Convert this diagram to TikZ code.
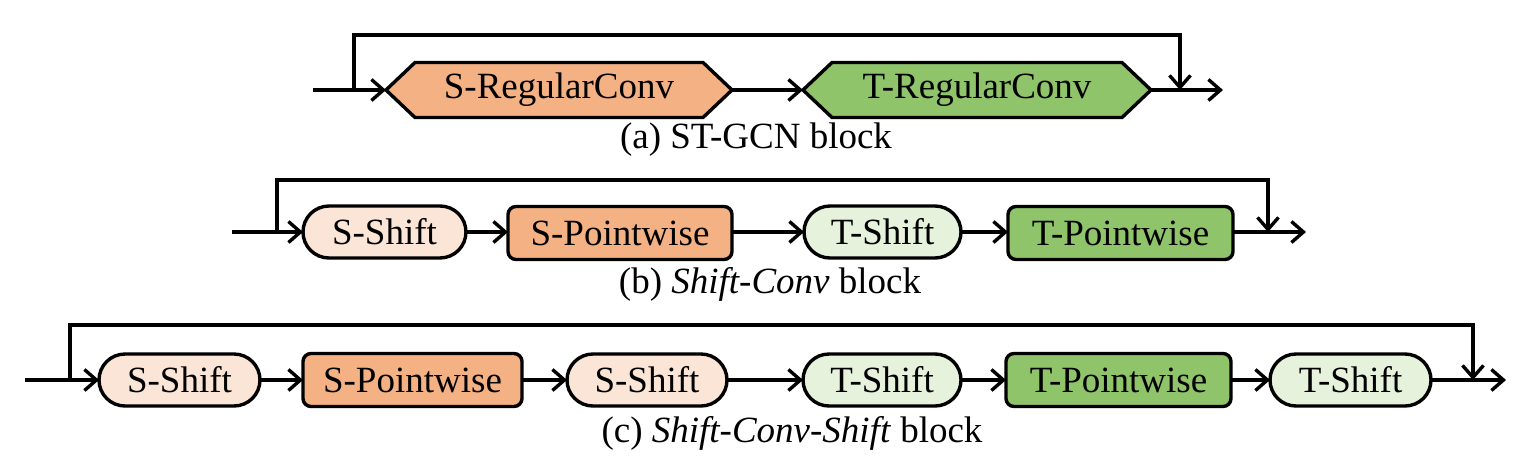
\documentclass[tikz,border=0pt]{standalone}
\usepackage{fontspec}
\setmainfont{Liberation Serif}
\usetikzlibrary{arrows.meta,backgrounds}
\definecolor{sdark}{HTML}{F4B183}
\definecolor{slight}{HTML}{FBE5D6}
\definecolor{tdark}{HTML}{8FC46B}
\definecolor{tlight}{HTML}{E6F2DC}
\begin{document}
\begin{tikzpicture}[x=1pt,y=-1pt,line width=3.4pt,
  every node/.style={font=\fontsize{37}{40}\selectfont,inner sep=0pt,outer sep=0pt},
  arr/.style={-{Straight Barb[length=12pt,width=21pt,line width=3.4pt]}},
  hexbox/.style={minimum width=#1,minimum height=55pt},
  hexline/.style={line width=3.4pt,line join=miter},
  stad/.style={draw,rounded corners=26pt,minimum height=52pt,minimum width=#1},
  pwbox/.style={draw,rounded corners=8pt,minimum height=53pt,minimum width=#1},
  captext/.style={anchor=center}]
\useasboundingbox (0,0) rectangle (1529,456);

% ---------- (a) ----------
\node[hexbox=346pt] (sr) at (559,90) {S-RegularConv};
\node[hexbox=348pt] (tr) at (977,90) {T-RegularConv};
\begin{scope}[on background layer]
\draw[hexline,fill=sdark] (sr.west) -- ([xshift=29pt]sr.north west) -- ([xshift=-29pt]sr.north east) -- (sr.east) -- ([xshift=-29pt]sr.south east) -- ([xshift=29pt]sr.south west) -- cycle;
\draw[hexline,fill=tdark] (tr.west) -- ([xshift=29pt]tr.north west) -- ([xshift=-29pt]tr.north east) -- (tr.east) -- ([xshift=-29pt]tr.south east) -- ([xshift=29pt]tr.south west) -- cycle;
\end{scope}
\coordinate (ain) at (313,90);
\coordinate (abr) at (354,90);
\coordinate (ajn) at (1180,90);
\coordinate (aout) at (1223,90);
\draw[arr] (ain) -- (sr.west);
\draw[arr] (sr.east) -- (tr.west);
\draw[arr] (tr.east) -- (aout);
\draw[arr] (abr) -- ++(0,-55) -| (ajn);
\node[captext] (capa) at (756,140) {(a) ST-GCN block};

% ---------- (b) ----------
\node[stad=163pt,fill=slight] (bss) at (384.5,232) {S-Shift};
\node[pwbox=224pt,fill=sdark] (bsp) at (620,233) {S-Pointwise};
\node[stad=157pt,fill=tlight] (bts) at (882.5,232) {T-Shift};
\node[pwbox=225pt,fill=tdark] (btp) at (1120.5,233) {T-Pointwise};
\coordinate (bin) at (232,232);
\coordinate (bbr) at (277,232);
\coordinate (bjn) at (1268,232);
\coordinate (bout) at (1306,232);
\draw[arr] (bin) -- (bss.west);
\draw[arr] (bss.east) -- (bsp.west|-bss.east);
\draw[arr] (bsp.east|-bss.east) -- (bts.west);
\draw[arr] (bts.east) -- (btp.west|-bts.east);
\draw[arr] (btp.east|-bts.east) -- (bout);
\draw[arr] (bbr) -- ++(0,-52) -| (bjn);
\node[captext] (capb) at (770,284) {(b) \textit{Shift-Conv} block};

% ---------- (c) ----------
\node[stad=161pt,fill=slight] (css1) at (179.5,380) {S-Shift};
\node[pwbox=219pt,fill=sdark] (csp) at (412.5,380) {S-Pointwise};
\node[stad=160pt,fill=slight] (css2) at (647,380) {S-Shift};
\node[stad=158pt,fill=tlight] (cts1) at (882,380) {T-Shift};
\node[pwbox=225pt,fill=tdark] (ctp) at (1118.5,380) {T-Pointwise};
\node[stad=161pt,fill=tlight] (cts2) at (1350.5,380) {T-Shift};
\coordinate (cin) at (25,380);
\coordinate (cbr) at (70,380);
\coordinate (cjn) at (1473,380);
\coordinate (cout) at (1506,380);
\draw[arr] (cin) -- (css1.west);
\draw[arr] (css1.east) -- (csp.west);
\draw[arr] (csp.east) -- (css2.west);
\draw[arr] (css2.east) -- (cts1.west);
\draw[arr] (cts1.east) -- (ctp.west);
\draw[arr] (ctp.east) -- (cts2.west);
\draw[arr] (cts2.east) -- (cout);
\draw[arr] (cbr) -- ++(0,-55) -| (cjn);
\node[captext] (capc) at (792,433) {(c) \textit{Shift-Conv-Shift} block};
\end{tikzpicture}
\end{document}
